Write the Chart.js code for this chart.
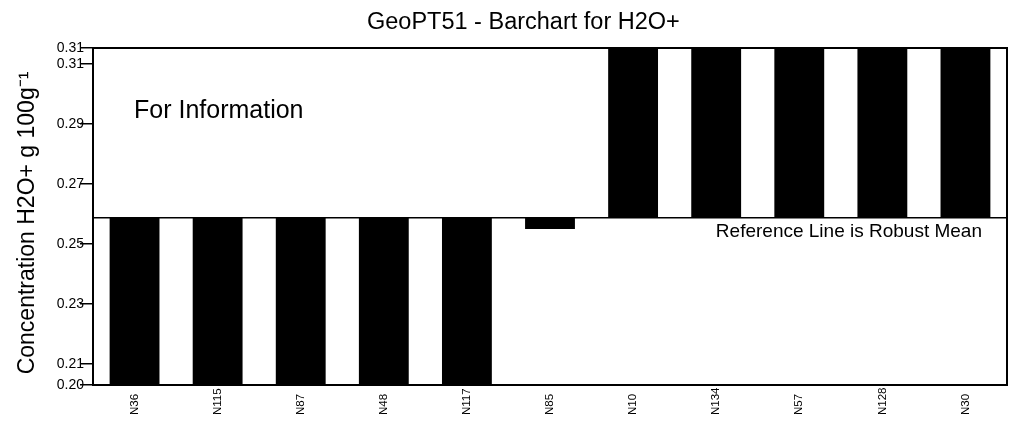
<!DOCTYPE html>
<html>
<head>
<meta charset="utf-8">
<script src="https://cdn.jsdelivr.net/npm/chart.js@4"></script>
<style>
  html, body { margin: 0; padding: 0; background: #fff; }
  #wrap { width: 1014px; height: 428px; position: relative; }
</style>
</head>
<body>
<div id="wrap"><canvas id="myChart"></canvas></div>
<script>
// labs and their reported results (off-scale ones estimated past the axis)
const labs = ['N36', 'N115', 'N87', 'N48', 'N117', 'N85', 'N10', 'N134', 'N57', 'N128', 'N30'];
const results = [0.19, 0.19, 0.19, 0.19, 0.19, 0.252, 0.33, 0.33, 0.33, 0.33, 0.33];
const robustMean = 0.2557;
const yTicks = [0.200, 0.207, 0.227, 0.247, 0.267, 0.287, 0.307, 0.3123];
const yMin = 0.200;
const yMax = 0.3123;

const FONT = '"Liberation Sans", Arial, sans-serif';

const decorations = {
  id: 'decorations',
  afterDatasetsDraw(chart) {
    const { ctx, chartArea: a, scales } = chart;
    const yRef = scales.y.getPixelForValue(robustMean);
    ctx.save();
    // reference line
    ctx.strokeStyle = '#000';
    ctx.lineWidth = 1.5;
    ctx.beginPath();
    ctx.moveTo(a.left, yRef);
    ctx.lineTo(a.right, yRef);
    ctx.stroke();
    // frame
    ctx.lineWidth = 2;
    ctx.strokeRect(a.left, a.top, a.right - a.left, a.bottom - a.top);

    ctx.fillStyle = '#000';
    ctx.font = '23.5px ' + FONT;
    ctx.textAlign = 'left';
    ctx.textBaseline = 'alphabetic';
    ctx.fillText('GeoPT51 - Barchart for H2O+', 367, 29);

    ctx.font = '25px ' + FONT;
    ctx.fillText('For Information', 134, 118);

    ctx.font = '19px ' + FONT;
    ctx.textAlign = 'right';
    ctx.fillText('Reference Line is Robust Mean', 982, 237);

    // y axis title
    ctx.save();
    ctx.translate(28, 223);
    ctx.rotate(-Math.PI / 2);
    ctx.font = '23px ' + FONT;
    ctx.textAlign = 'center';
    ctx.textBaseline = 'middle';
    ctx.fillText('Concentration H2O+ g 100g\u207B\u00B9', 0, 0);
    ctx.restore();

    // x labels, rotated, reading upward from the bottom
    ctx.font = '11.5px ' + FONT;
    labs.forEach((lab, i) => {
      const x = scales.x.getPixelForValue(i);
      ctx.save();
      ctx.translate(x, 415);
      ctx.rotate(-Math.PI / 2);
      ctx.textAlign = 'left';
      ctx.textBaseline = 'middle';
      ctx.fillText(lab, 0, 0);
      ctx.restore();
    });
    ctx.restore();
  }
};

new Chart(document.getElementById('myChart'), {
  type: 'bar',
  data: {
    labels: labs,
    datasets: [{
      data: results.map(v => [robustMean, v]),
      backgroundColor: '#000',
      borderWidth: 0,
      barPercentage: 0.6,
      categoryPercentage: 1.0
    }]
  },
  options: {
    responsive: true,
    maintainAspectRatio: false,
    animation: false,
    layout: { padding: { top: 48, right: 7, left: 0, bottom: 0 } },
    plugins: {
      legend: { display: false },
      title: { display: false },
      tooltip: { enabled: false }
    },
    scales: {
      x: {
        grid: { display: false },
        border: { display: false },
        ticks: { display: false },
        afterFit: s => { s.height = 43; }
      },
      y: {
        min: yMin,
        max: yMax,
        afterBuildTicks: s => { s.ticks = yTicks.map(v => ({ value: v })); },
        grid: { drawOnChartArea: false, tickLength: 13, color: '#000', lineWidth: 1.5 },
        border: { color: '#000', width: 2 },
        ticks: {
          padding: -4,
          color: '#000',
          font: { family: FONT, size: 14 },
          callback: v => v.toFixed(2)
        },
        afterFit: s => { s.width = 93; }
      }
    }
  },
  plugins: [decorations]
});
</script>
</body>
</html>
